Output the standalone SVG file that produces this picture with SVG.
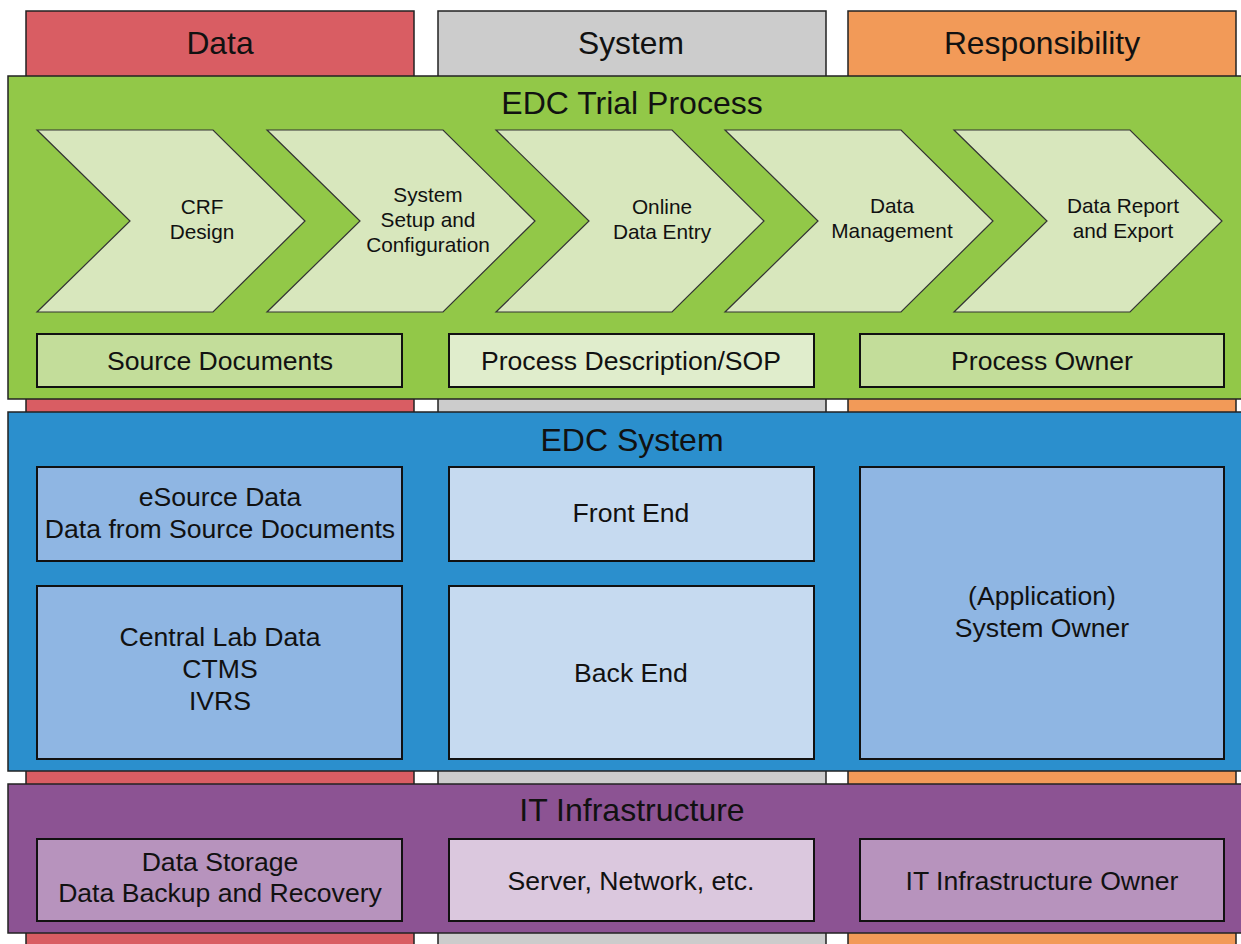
<svg xmlns="http://www.w3.org/2000/svg" width="1241" height="944" viewBox="0 0 1241 944">
<style>
text{font-family:"Liberation Sans",Arial,Helvetica,sans-serif;fill:#111;text-anchor:middle}
.hd{font-size:31.8px}
.tt{font-size:32px}
.bx{font-size:26.6px}
.cv{font-size:20.8px}
.col{stroke:#222;stroke-width:1.5}
.band{stroke:#222;stroke-width:1.5}
.box{stroke:#111;stroke-width:2}
.chev{fill:#d8e7bd;stroke:#333;stroke-width:1.2}
</style>
<rect width="1241" height="944" fill="#ffffff"/>
<g id="col-data"><rect class="col" x="26" y="11" width="388" height="940" fill="#d95d63"/><text class="hd" x="220" y="54">Data</text></g>
<g id="col-system"><rect class="col" x="438" y="11" width="388" height="940" fill="#cccccc"/><text class="hd" x="631" y="54">System</text></g>
<g id="col-responsibility"><rect class="col" x="848" y="11" width="388" height="940" fill="#f29a58"/><text class="hd" x="1042" y="54">Responsibility</text></g>

<g id="band-process"><rect class="band" x="8" y="76" width="1240" height="323" fill="#92c848"/><text class="tt" x="632" y="114">EDC Trial Process</text></g>
<g id="chev-crf"><polygon class="chev" points="37,130 213,130 305,221 213,312 37,312 130,221"/><text class="cv" x="202" y="214">CRF</text><text class="cv" x="202" y="239">Design</text></g>
<g id="chev-setup"><polygon class="chev" points="267,130 443,130 535,221 443,312 267,312 360,221"/><text class="cv" x="428" y="202">System</text><text class="cv" x="428" y="227">Setup and</text><text class="cv" x="428" y="252">Configuration</text></g>
<g id="chev-entry"><polygon class="chev" points="496,130 672,130 764,221 672,312 496,312 589,221"/><text class="cv" x="662" y="214">Online</text><text class="cv" x="662" y="239">Data Entry</text></g>
<g id="chev-mgmt"><polygon class="chev" points="725,130 901,130 993,221 901,312 725,312 818,221"/><text class="cv" x="892" y="213">Data</text><text class="cv" x="892" y="238">Management</text></g>
<g id="chev-report"><polygon class="chev" points="954,130 1130,130 1222,221 1130,312 954,312 1047,221"/><text class="cv" x="1123" y="213">Data Report</text><text class="cv" x="1123" y="238">and Export</text></g>
<g id="box-source"><rect class="box" x="37" y="334" width="365" height="53" fill="#c3dd9a"/><text class="bx" x="220" y="370">Source Documents</text></g>
<g id="box-sop"><rect class="box" x="449" y="334" width="365" height="53" fill="#e0edcc"/><text class="bx" x="631" y="370">Process Description/SOP</text></g>
<g id="box-powner"><rect class="box" x="860" y="334" width="364" height="53" fill="#c3dd9a"/><text class="bx" x="1042" y="370">Process Owner</text></g>

<g id="band-system"><rect class="band" x="8" y="412" width="1240" height="359" fill="#2b8fcd"/><text class="tt" x="632" y="451">EDC System</text></g>
<g id="box-esource"><rect class="box" x="37" y="467" width="365" height="94" fill="#8fb6e3"/><text class="bx" x="220" y="506">eSource Data</text><text class="bx" x="220" y="538">Data from Source Documents</text></g>
<g id="box-front"><rect class="box" x="449" y="467" width="365" height="94" fill="#c6daf0"/><text class="bx" x="631" y="522">Front End</text></g>
<g id="box-central"><rect class="box" x="37" y="586" width="365" height="173" fill="#8fb6e3"/><text class="bx" x="220" y="646">Central Lab Data</text><text class="bx" x="220" y="678">CTMS</text><text class="bx" x="220" y="710">IVRS</text></g>
<g id="box-back"><rect class="box" x="449" y="586" width="365" height="173" fill="#c6daf0"/><text class="bx" x="631" y="682">Back End</text></g>
<g id="box-sowner"><rect class="box" x="860" y="467" width="364" height="292" fill="#8fb6e3"/><text class="bx" x="1042" y="605">(Application)</text><text class="bx" x="1042" y="637">System Owner</text></g>

<g id="band-it"><rect class="band" x="8" y="784" width="1240" height="149" fill="#8c5393"/><text class="tt" x="632" y="821">IT Infrastructure</text></g>
<g id="box-storage"><rect class="box" x="37" y="839" width="365" height="82" fill="#b793bd"/><text class="bx" x="220" y="871">Data Storage</text><text class="bx" x="220" y="902">Data Backup and Recovery</text></g>
<g id="box-server"><rect class="box" x="449" y="839" width="365" height="82" fill="#dbc8de"/><text class="bx" x="631" y="890">Server, Network, etc.</text></g>
<g id="box-itowner"><rect class="box" x="860" y="839" width="364" height="82" fill="#b793bd"/><text class="bx" x="1042" y="890">IT Infrastructure Owner</text></g>
</svg>
